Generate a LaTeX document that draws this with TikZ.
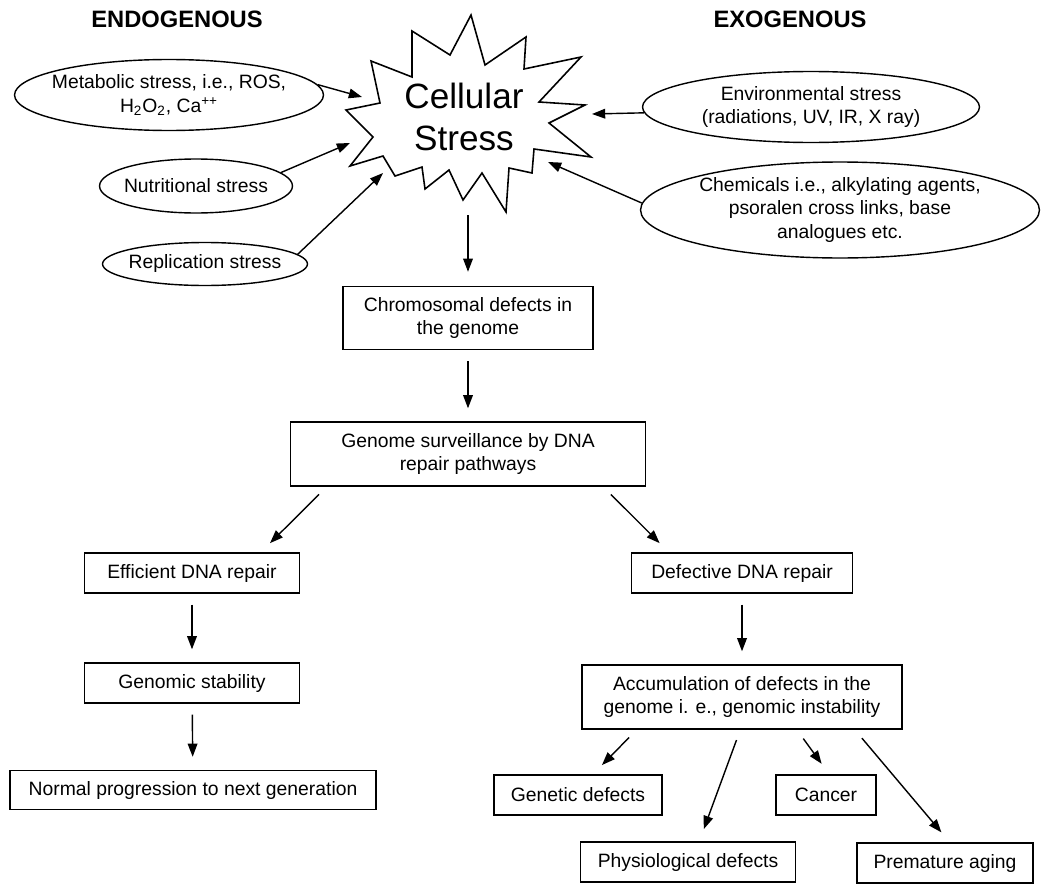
\documentclass[tikz,border=0pt]{standalone}
\usepackage{fontspec}
\setmainfont{Liberation Sans}
\usetikzlibrary{shapes,arrows.meta,positioning}

\begin{document}
\begin{tikzpicture}[x=0.02cm, y=-0.02cm, line width=0.8pt,
        >={Triangle[length=7.5pt,width=5.5pt]},
        txt/.style={font=\fontsize{11}{13.6}\selectfont, align=center, inner sep=0pt},
        head/.style={font=\fontsize{13.5}{16}\selectfont\bfseries},
        cause/.style={draw, ellipse, inner sep=0pt},
        box/.style={txt, draw, rectangle, minimum height=0.8cm},
        arr/.style={->, shorten <=0.22cm, shorten >=0.26cm}]

        \useasboundingbox (0,0) rectangle (1050,892);

        % Headings
        \node[head] (endo) at (177,19) {ENDOGENOUS};
        \node[head] (exo) at (790,19) {EXOGENOUS};

        % Cellular stress burst
        \draw[line width=0.9pt] (471,15) -- (485,65) -- (526,37) -- (524,69) -- (581,57)
            -- (539,102) -- (585,105) -- (549,123) -- (591,157) -- (534,149)
            -- (532,173) -- (509,168) -- (506,212) -- (482,173) -- (463,200)
            -- (449,170) -- (425,189) -- (422,167) -- (395,176) -- (383,156)
            -- (350,166) -- (373,137) -- (346,110) -- (380,103) -- (371,61)
            -- (412,77) -- (412,31) -- (450,55) -- cycle;
        \node[font=\fontsize{20}{24}\selectfont, align=center] (stress) at (464,117) {Cellular\\Stress};

        \coordinate (bMet) at (362,97);
        \coordinate (bNut) at (350,143);
        \coordinate (bRep) at (383,173);
        \coordinate (bEnv) at (592,114);
        \coordinate (bChem) at (548,162);
        \coordinate (bBot) at (468,215);

        % Endogenous causes (left)
        \node[cause, minimum width=6.18cm, minimum height=1.42cm,
            label={[txt]center:Metabolic stress, i.e., ROS,\\H\textsubscript{2}O\textsubscript{2}, Ca\textsuperscript{++}}] (met) at (169,95) {};
        \node[cause, minimum width=3.86cm, minimum height=1.08cm,
            label={[txt]center:Nutritional stress}] (nut) at (196,186) {};
        \node[cause, minimum width=4.1cm, minimum height=0.86cm,
            label={[txt]center:Replication stress}] (rep) at (205,264) {};

        % Exogenous causes (right)
        \node[cause, minimum width=6.74cm, minimum height=1.42cm,
            label={[txt]center:Environmental stress\\(radiations, UV, IR, X ray)}] (env) at (811,107) {};
        \node[cause, minimum width=7.98cm, minimum height=1.92cm,
            label={[txt]center:Chemicals i.e., alkylating agents,\\psoralen cross links, base\\analogues etc.}] (chem) at (840,210) {};

        \draw[->] (met.4) -- (bMet);
        \draw[->] (nut.9) -- (bNut);
        \draw[->] (rep.6) -- (bRep);
        \draw[->] (env.182) -- (bEnv);
        \draw[->] (chem.178) -- (bChem);

        % Main chain
        \node[box, minimum width=5cm, minimum height=1.26cm] (chrom) at (468,318) {Chromosomal defects in\\the genome};
        \node[box, minimum width=7.1cm, minimum height=1.28cm] (surv) at (468,454) {Genome surveillance by DNA\\repair pathways};

        \draw[->, shorten >=0.28cm] (bBot) -- (chrom.north);
        \draw[arr] (chrom) -- (surv);

        % Efficient repair (left)
        \node[box, minimum width=4.3cm] (eff) at (192,573) {Efficient DNA repair};
        \node[box, minimum width=4.3cm] (stab) at (192,683) {Genomic stability};
        \node[box, minimum width=7.32cm, minimum height=0.78cm] (normal) at (193,790) {Normal progression to next generation};

        \draw[arr] ([xshift=0.74cm]surv.south west) -- ([xshift=3.54cm]eff.north west);
        \draw[arr] (eff) -- (stab);
        \draw[arr] (stab) -- (normal);

        % Defective repair (right)
        \node[box, minimum width=4.42cm] (def) at (742,573) {Defective DNA repair};
        \node[box, minimum width=6.4cm, minimum height=1.28cm] (accum) at (742,697) {Accumulation of defects in the\\genome i. e., genomic instability};

        \draw[arr] ([xshift=-0.86cm]surv.south east) -- ([xshift=0.76cm]def.north west);
        \draw[arr] (def) -- (accum);

        % Outcomes
        \node[box, minimum width=3.36cm] (genetic) at (578,795) {Genetic defects};
        \node[box, minimum width=2cm] (cancer) at (826,795) {Cancer};
        \node[box, minimum width=4.3cm] (physio) at (688,862) {Physiological defects};
        \node[box, minimum width=3.52cm] (aging) at (945,863) {Premature aging};

        \draw[arr] ([xshift=1.11cm]accum.south west) -- ([xshift=1.99cm]genetic.north west);
        \draw[arr] ([xshift=3.18cm]accum.south west) -- ([xshift=2.39cm]physio.north west);
        \draw[arr] ([xshift=4.31cm]accum.south west) -- ([xshift=1.08cm]cancer.north west);
        \draw[arr] ([xshift=5.47cm]accum.south west) -- ([xshift=1.87cm]aging.north west);

    \end{tikzpicture}
\end{document}
